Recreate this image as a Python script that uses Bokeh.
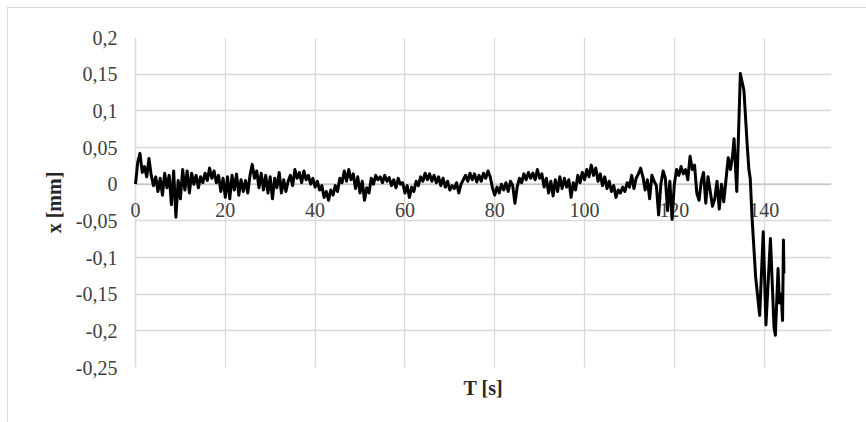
from bokeh.plotting import figure
from bokeh.models import (FixedTicker, CustomJSTickFormatter, Range1d, Title,
                          BoxAnnotation, Span, LabelSet, ColumnDataSource)
from bokeh.embed import file_html
from bokeh.resources import INLINE

# ---- data ----
t_s = [
    0.0, 0.5, 1.0, 1.5, 2.0, 2.5, 3.0, 3.5, 4.0, 4.5,
    5.0, 5.5, 6.0, 6.5, 7.0, 7.5, 8.0, 8.5, 9.0, 9.5,
    10.0, 10.5, 11.0, 11.5, 12.0, 12.5, 13.0, 13.5, 14.0, 14.5,
    15.0, 15.5, 16.0, 16.5, 17.0, 17.5, 18.0, 18.5, 19.0, 19.5,
    20.0, 20.5, 21.0, 21.5, 22.0, 22.5, 23.0, 23.5, 24.0, 24.5,
    25.0, 25.5, 26.0, 26.5, 27.0, 27.5, 28.0, 28.5, 29.0, 29.5,
    30.0, 30.5, 31.0, 31.5, 32.0, 32.5, 33.0, 33.5, 34.0, 34.5,
    35.0, 35.5, 36.0, 36.5, 37.0, 37.5, 38.0, 38.5, 39.0, 39.5,
    40.0, 40.5, 41.0, 41.5, 42.0, 42.5, 43.0, 43.5, 44.0, 44.5,
    45.0, 45.5, 46.0, 46.5, 47.0, 47.5, 48.0, 48.5, 49.0, 49.5,
    50.0, 50.5, 51.0, 51.5, 52.0, 52.5, 53.0, 53.5, 54.0, 54.5,
    55.0, 55.5, 56.0, 56.5, 57.0, 57.5, 58.0, 58.5, 59.0, 59.5,
    60.0, 60.5, 61.0, 61.5, 62.0, 62.5, 63.0, 63.5, 64.0, 64.5,
    65.0, 65.5, 66.0, 66.5, 67.0, 67.5, 68.0, 68.5, 69.0, 69.5,
    70.0, 70.5, 71.0, 71.5, 72.0, 72.5, 73.0, 73.5, 74.0, 74.5,
    75.0, 75.5, 76.0, 76.5, 77.0, 77.5, 78.0, 78.5, 79.0, 79.5,
    80.0, 80.5, 81.0, 81.5, 82.0, 82.5, 83.0, 83.5, 84.0, 84.5,
    85.0, 85.5, 86.0, 86.5, 87.0, 87.5, 88.0, 88.5, 89.0, 89.5,
    90.0, 90.5, 91.0, 91.5, 92.0, 92.5, 93.0, 93.5, 94.0, 94.5,
    95.0, 95.5, 96.0, 96.5, 97.0, 97.5, 98.0, 98.5, 99.0, 99.5,
    100.0, 100.5, 101.0, 101.5, 102.0, 102.5, 103.0, 103.5, 104.0, 104.5,
    105.0, 105.5, 106.0, 106.5, 107.0, 107.5, 108.0, 108.5, 109.0, 109.5,
    110.0, 110.5, 111.0, 111.5, 112.0, 112.5, 113.0, 113.5, 114.0, 114.5,
    115.0, 115.5, 116.0, 116.5, 117.0, 117.5, 118.0, 118.5, 119.0, 119.5,
    120.0, 120.5, 121.0, 121.5, 122.0, 122.5, 123.0, 123.5, 124.0, 124.5,
    125.0, 125.5, 126.0, 126.5, 127.0, 127.5, 128.0, 128.5, 129.0, 129.5,
    130.0, 130.5, 131.0, 131.5, 132.0, 132.5, 133.0,
    133.3, 133.9, 134.7, 135.0, 135.5, 136.2, 136.6, 136.9, 137.3, 138.1,
    139.0, 139.8, 140.4, 141.4, 142.2, 142.5, 143.1, 143.4, 143.8, 144.1,
    144.3, 144.4,
]

x_mm = [
    0.000, 0.030, 0.042, 0.016, 0.024, 0.010, 0.035, 0.012, -0.002, 0.010,
    -0.010, 0.008, -0.015, 0.015, -0.005, 0.012, -0.028, 0.018, -0.045, 0.005,
    -0.020, 0.020, -0.008, 0.018, -0.012, 0.015, 0.000, 0.012, -0.005, 0.010,
    0.002, 0.015, 0.005, 0.022, 0.008, 0.018, 0.002, 0.012, -0.010, 0.008,
    -0.018, 0.010, -0.020, 0.012, -0.008, 0.014, -0.015, 0.006, -0.010, 0.005,
    -0.012, 0.012, 0.027, 0.008, 0.018, -0.005, 0.015, -0.008, 0.012, -0.012,
    0.010, -0.020, 0.008, -0.005, 0.016, -0.012, 0.006, -0.010, 0.004, 0.012,
    -0.002, 0.020, 0.008, 0.016, 0.002, 0.018, 0.006, 0.012, 0.000, 0.008,
    -0.004, 0.004, -0.008, -0.002, -0.018, -0.010, -0.022, -0.008, -0.015, -0.002,
    -0.010, 0.008, 0.002, 0.018, 0.004, 0.020, 0.006, 0.014, -0.006, 0.010,
    -0.012, 0.004, -0.022, -0.005, -0.012, 0.008, 0.000, 0.012, 0.006, 0.010,
    0.002, 0.012, 0.004, 0.009, -0.002, 0.006, -0.005, 0.008, 0.000, 0.002,
    -0.012, -0.002, -0.018, -0.004, -0.010, 0.004, -0.002, 0.010, 0.004, 0.015,
    0.006, 0.014, 0.004, 0.012, 0.002, 0.010, -0.002, 0.008, -0.004, 0.004,
    -0.008, -0.002, -0.006, 0.002, -0.012, 0.000, 0.006, 0.012, 0.004, 0.015,
    0.006, 0.014, 0.003, 0.012, 0.004, 0.015, 0.008, 0.018, 0.010, -0.005,
    -0.015, -0.004, -0.012, 0.000, -0.008, 0.002, -0.010, 0.004, -0.002, -0.026,
    -0.004, 0.008, 0.002, 0.014, 0.006, 0.016, 0.008, 0.015, 0.006, 0.020,
    0.008, 0.014, -0.004, 0.008, -0.012, 0.004, -0.016, 0.006, -0.010, 0.010,
    -0.006, 0.008, -0.004, 0.006, -0.018, 0.002, -0.008, 0.012, 0.002, 0.016,
    0.006, 0.020, 0.010, 0.026, 0.012, 0.022, 0.004, 0.014, -0.002, 0.010,
    -0.006, 0.004, -0.010, -0.002, -0.018, -0.008, -0.012, -0.004, -0.010, 0.002,
    -0.004, 0.012, -0.006, 0.008, 0.014, 0.022, 0.010, -0.008, 0.006, -0.020,
    0.012, 0.004, -0.002, -0.042, 0.000, 0.018, 0.008, -0.036, 0.004, -0.048,
    0.000, 0.020, 0.012, 0.024, 0.014, 0.020, 0.006, 0.038, 0.020, 0.026,
    -0.012, -0.022, 0.004, 0.016, -0.026, 0.010, -0.010, -0.030, -0.020, 0.004,
    -0.034, 0.000, -0.024, 0.006, 0.036, 0.020, 0.040,
    0.062, -0.010, 0.151, 0.142, 0.128, 0.056, 0.020, 0.008, -0.045, -0.126,
    -0.179, -0.065, -0.192, -0.074, -0.195, -0.206, -0.115, -0.162, -0.150, -0.186,
    -0.076, -0.122,
]

x_ticks = [0, 20, 40, 60, 80, 100, 120, 140]
x_tick_labels = ["0", "20", "40", "60", "80", "100", "120", "140"]
y_ticks = [-0.25, -0.2, -0.15, -0.1, -0.05, 0, 0.05, 0.1, 0.15, 0.2]
x_title = "T [s]"
y_title = "x [mm]"

FONT = "Liberation Serif"
GRID = "#d9d9d9"

# the frame starts 10 px left of T = 0 so that the "0" label is not clipped;
# that strip is painted white below
p = figure(width=866, height=422, output_backend="svg", toolbar_location=None,
           x_range=Range1d(-2.227, 155), y_range=Range1d(-0.25, 0.2),
           min_border_left=125, min_border_top=37, min_border_right=35,
           min_border_bottom=55)
p.outline_line_color = None
p.background_fill_color = "white"
p.border_fill_color = "white"
p.border_fill_alpha = 0
p.styles = {"background": "linear-gradient(#d9d9d9, #d9d9d9) 7px 7px / 1px 100% no-repeat, "
                          "linear-gradient(#d9d9d9, #d9d9d9) 7px 7px / 100% 1px no-repeat, "
                          "#ffffff"}

# grids
p.xgrid.ticker = FixedTicker(ticks=x_ticks)
p.ygrid.ticker = FixedTicker(ticks=y_ticks)
p.xgrid.grid_line_color = GRID
p.ygrid.grid_line_color = GRID
p.xgrid.grid_line_width = 1.3
p.ygrid.grid_line_width = 1.3

# horizontal axis line crossing at y = 0 (under the data)
p.add_layout(Span(location=0, dimension="width", line_color="#bfbfbf",
                  line_width=1.3, level="underlay"))

# white strip left of T = 0, then the vertical axis line at T = 0
p.add_layout(BoxAnnotation(right=0, fill_color="white", fill_alpha=1,
                           line_color=None, level="glyph"))
p.add_layout(Span(location=0, dimension="height", line_color=GRID,
                  line_width=1.3, level="glyph"))

# x tick labels hanging under the y = 0 line
lab_src = ColumnDataSource(dict(x=x_ticks, y=[0] * len(x_ticks),
                                text=x_tick_labels))
p.add_layout(LabelSet(x="x", y="y", text="text", source=lab_src,
                      y_offset=-19, text_align="center", text_baseline="top",
                      text_font=FONT, text_font_size="20px",
                      text_color="#404040", level="annotation"))

line = p.line(t_s, x_mm, line_color="black", line_width=3, line_join="round")
line.level = "overlay"

# y axis
ya = p.yaxis[0]
ya.ticker = FixedTicker(ticks=y_ticks)
ya.formatter = CustomJSTickFormatter(
    code="return (Math.round(tick*100)/100).toString().replace('.', ',');")
ya.axis_line_color = None
ya.major_tick_line_color = None
ya.minor_tick_line_color = None
ya.major_tick_out = 0
ya.major_tick_in = 0
ya.minor_tick_out = 0
ya.minor_tick_in = 0
ya.major_label_standoff = 8
ya.major_label_text_font = FONT
ya.major_label_text_font_size = "20px"
ya.major_label_text_color = "#404040"
ya.axis_label = y_title
ya.axis_label_text_font = FONT
ya.axis_label_text_font_size = "20px"
ya.axis_label_text_font_style = "bold"
ya.axis_label_text_color = "#262626"
ya.axis_label_standoff = 8

# default bottom axis hidden (its labels are drawn at y = 0 above)
p.xaxis.visible = False

p.add_layout(Title(text=x_title, align="left", offset=338, text_font=FONT,
                   text_font_size="20px", text_font_style="bold",
                   text_color="#262626", standoff=14), "below")

open("out.html", "w").write(file_html(p, INLINE))
